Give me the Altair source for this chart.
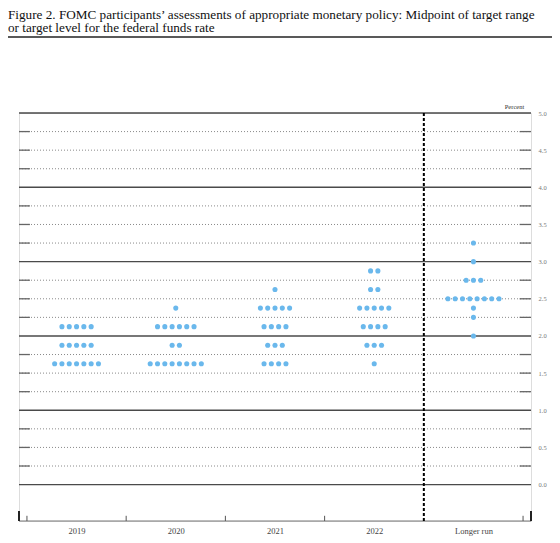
import json
import altair as alt
import pandas as pd

# ---------------- data ----------------
categories = ["2019", "2020", "2021", "2022", "Longer run"]

rates_2019 = [2.125, 1.875, 1.625]
counts_2019 = [5, 5, 7]
rates_2020 = [2.375, 2.125, 1.875, 1.625]
counts_2020 = [1, 6, 2, 8]
rates_2021 = [2.625, 2.375, 2.125, 1.875, 1.625]
counts_2021 = [1, 5, 4, 3, 4]
rates_2022 = [2.875, 2.625, 2.375, 2.125, 1.875, 1.625]
counts_2022 = [2, 2, 5, 4, 3, 1]
rates_lr = [3.25, 3.0, 2.75, 2.5, 2.375, 2.25, 2.0]
counts_lr = [1, 1, 3, 8, 1, 1, 1]

y_label_values = [0.0, 0.5, 1.0, 1.5, 2.0, 2.5, 3.0, 3.5, 4.0, 4.5, 5.0]
solid_levels = [0.0, 1.0, 2.0, 3.0, 4.0, 5.0]
dotted_levels = [0.25, 0.5, 0.75, 1.25, 1.5, 1.75, 2.25, 2.5, 2.75,
                 3.25, 3.5, 3.75, 4.25, 4.5, 4.75]
tick_positions = [0, 1, 2, 3, 5]
divider_position = 4

title_lines = [
    "Figure 2.  FOMC participants\u2019 assessments of appropriate monetary policy:  Midpoint of target range",
    "or target level for the federal funds rate",
]

# ---------------- layout constants ----------------
X_MIN, X_MAX = -0.08, 5.08
Y_MIN, Y_MAX = -0.49, 5.0
DOT_STEP = 0.0736
SERIF = "Liberation Serif"

# ---------------- build tables ----------------
groups = [
    (rates_2019, counts_2019),
    (rates_2020, counts_2020),
    (rates_2021, counts_2021),
    (rates_2022, counts_2022),
    (rates_lr, counts_lr),
]
dot_rows = []
for ci, (rates, counts) in enumerate(groups):
    center = ci + 0.5
    for r, n in zip(rates, counts):
        for i in range(n):
            dot_rows.append({"category": categories[ci], "rate": r,
                             "xpos": center + (i - (n - 1) / 2) * DOT_STEP})
dots = pd.DataFrame(dot_rows)

solid_df = pd.DataFrame({"y": solid_levels, "x": X_MIN, "x2": X_MAX})
dotted_df = pd.DataFrame({"y": dotted_levels, "x": X_MIN, "x2": X_MAX})
ends_df = pd.DataFrame(
    [{"y": l, "x": X_MIN, "x2": X_MIN + 0.11} for l in dotted_levels]
    + [{"y": l, "x": X_MAX - 0.115, "x2": X_MAX} for l in dotted_levels]
)
ticks_df = pd.DataFrame({"x": tick_positions, "y": Y_MIN, "y2": Y_MIN + 0.07})
edge_df = pd.DataFrame({"x": [X_MIN, X_MAX], "y": Y_MIN, "y2": Y_MIN + 0.135})
base_df = pd.DataFrame({"x": [X_MIN], "x2": [X_MAX], "y": [Y_MIN]})
divider_df = pd.DataFrame({"x": [divider_position], "y": [Y_MIN], "y2": [Y_MAX]})
one = pd.DataFrame({"a": [0]})

xscale = alt.Scale(domain=[X_MIN, X_MAX], nice=False, zero=False)
yscale = alt.Scale(domain=[Y_MIN, Y_MAX], nice=False, zero=False)

label_expr = "%s[floor(datum.value)]" % json.dumps(categories)
x_axis = alt.Axis(values=[0.5, 1.5, 2.5, 3.5, 4.5], labelExpr=label_expr,
                  ticks=False, domain=False, grid=False, title=None,
                  labelFont=SERIF, labelFontSize=8.5, labelColor="#444",
                  labelPadding=5, labelFlush=False, labelOverlap=False)
y_axis = alt.Axis(orient="right", values=y_label_values, format=".1f",
                  ticks=False, domain=False, grid=False,
                  title="Percent", titleAngle=0, titleX=-17, titleY=-7,
                  titleAlign="center", titleBaseline="middle",
                  titleFont=SERIF, titleFontSize=6.5, titleFontWeight="normal",
                  titleColor="#333",
                  labelFont=SERIF, labelFontSize=6.5, labelColor="#777",
                  labelPadding=7, labelFlush=False, labelOverlap=False)


def X(field):
    return alt.X(field, scale=xscale, axis=x_axis)


def Y(field):
    return alt.Y(field, scale=yscale, axis=y_axis)


solid = alt.Chart(solid_df).mark_rule(color="#4a4a4a", strokeWidth=1.4).encode(
    x=X("x:Q"), x2="x2:Q", y=Y("y:Q"),
)
dotted = alt.Chart(dotted_df).mark_rule(color="#8a8a8a", strokeWidth=1,
                                        strokeDash=[1, 2]).encode(
    x=X("x:Q"), x2="x2:Q", y=Y("y:Q"),
)
ends = alt.Chart(ends_df).mark_rule(color="#666", strokeWidth=1.3).encode(
    x=X("x:Q"), x2="x2:Q", y=Y("y:Q"),
)
base = alt.Chart(base_df).mark_rule(color="#777", strokeWidth=1).encode(
    x=X("x:Q"), x2="x2:Q", y=Y("y:Q"),
)
ticks = alt.Chart(ticks_df).mark_rule(color="#555", strokeWidth=1).encode(
    x=X("x:Q"), y=Y("y:Q"), y2="y2:Q",
)
edges = alt.Chart(edge_df).mark_rule(color="#222", strokeWidth=2).encode(
    x=X("x:Q"), y=Y("y:Q"), y2="y2:Q",
)
divider = alt.Chart(divider_df).mark_rule(color="#000", strokeWidth=2,
                                          strokeDash=[3, 2]).encode(
    x=X("x:Q"), y=Y("y:Q"), y2="y2:Q",
)
points = alt.Chart(dots).mark_circle(size=26, opacity=1, color="#6ab8ec").encode(
    x=X("xpos:Q"), y=Y("rate:Q"),
    tooltip=["category:N", "rate:Q"],
)
title_rule = alt.Chart(one).mark_rule(color="#222", strokeWidth=1.5).encode(
    x=alt.value(-11), x2=alt.value(533), y=alt.value(-76),
)

chart = alt.layer(
    solid, dotted, ends, base, ticks, edges, divider, points, title_rule
).properties(
    width=512,
    height=408,
    padding={"left": 11, "top": 105, "right": 21, "bottom": 22},
    autosize=alt.AutoSizeParams(type="none"),
    title=alt.TitleParams(
        text=title_lines, anchor="start", frame="group",
        font=SERIF, fontSize=13.2, fontWeight="normal", color="#111",
        lineHeight=13.5, dx=-11, offset=1,
    ),
).configure_view(stroke=None).configure(background="white")

chart.save("out.html", embed_options={"renderer": "svg", "actions": False})
